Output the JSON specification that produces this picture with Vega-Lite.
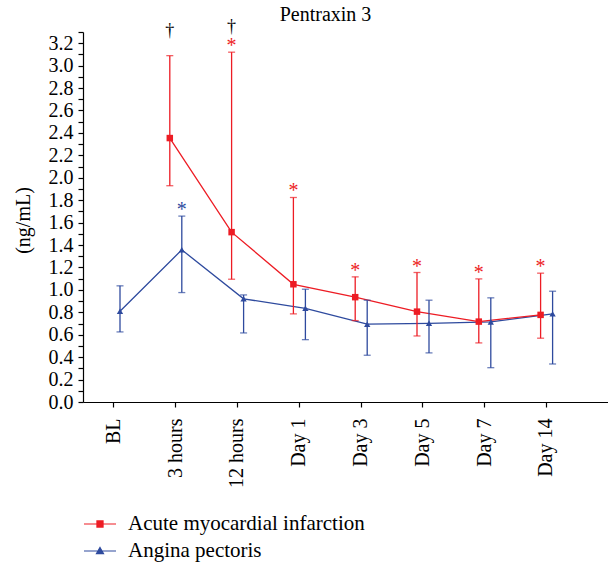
{
  "$schema": "https://vega.github.io/schema/vega-lite/v6.json",
  "width": 525,
  "height": 370,
  "autosize": {"type": "none"},
  "padding": {"left": 83, "top": 32, "right": 0, "bottom": 162},
  "background": "white",
  "title": {
    "text": "Pentraxin 3",
    "font": "Liberation Serif",
    "fontSize": 20,
    "fontWeight": "normal",
    "color": "black",
    "anchor": "middle",
    "dx": -20,
    "baseline": "alphabetic",
    "offset": -23
  },
  "config": {
    "view": {"stroke": null},
    "font": "Liberation Serif",
    "legend": {"labelFont": "Liberation Serif"},
    "axis": {
      "labelFont": "Liberation Serif",
      "labelColor": "black",
      "titleFont": "Liberation Serif",
      "titleColor": "black",
      "titleFontWeight": "normal",
      "domainColor": "black",
      "tickColor": "black",
      "grid": false
    }
  },
  "resolve": {"axis": {"y": "independent"}},
  "data": {
    "values": [
      {"time": "BL", "series": "Angina pectoris", "mean": 0.81, "lower": 0.625, "upper": 1.036, "sig": "", "dagger": ""},
      {"time": "3 hours", "series": "Acute myocardial infarction", "mean": 2.354, "lower": 1.929, "upper": 3.089, "sig": "", "dagger": "†"},
      {"time": "3 hours", "series": "Angina pectoris", "mean": 1.357, "lower": 0.976, "upper": 1.658, "sig": "*", "dagger": ""},
      {"time": "12 hours", "series": "Acute myocardial infarction", "mean": 1.515, "lower": 1.095, "upper": 3.12, "sig": "*", "dagger": "†"},
      {"time": "12 hours", "series": "Angina pectoris", "mean": 0.92, "lower": 0.616, "upper": 0.955, "sig": "", "dagger": ""},
      {"time": "Day 1", "series": "Acute myocardial infarction", "mean": 1.05, "lower": 0.786, "upper": 1.824, "sig": "*", "dagger": ""},
      {"time": "Day 1", "series": "Angina pectoris", "mean": 0.836, "lower": 0.556, "upper": 1.006, "sig": "", "dagger": ""},
      {"time": "Day 3", "series": "Acute myocardial infarction", "mean": 0.935, "lower": 0.726, "upper": 1.116, "sig": "*", "dagger": ""},
      {"time": "Day 3", "series": "Angina pectoris", "mean": 0.694, "lower": 0.417, "upper": 0.908, "sig": "", "dagger": ""},
      {"time": "Day 5", "series": "Acute myocardial infarction", "mean": 0.806, "lower": 0.589, "upper": 1.155, "sig": "*", "dagger": ""},
      {"time": "Day 5", "series": "Angina pectoris", "mean": 0.702, "lower": 0.438, "upper": 0.908, "sig": "", "dagger": ""},
      {"time": "Day 7", "series": "Acute myocardial infarction", "mean": 0.717, "lower": 0.527, "upper": 1.098, "sig": "*", "dagger": ""},
      {"time": "Day 7", "series": "Angina pectoris", "mean": 0.714, "lower": 0.306, "upper": 0.929, "sig": "", "dagger": ""},
      {"time": "Day 14", "series": "Acute myocardial infarction", "mean": 0.777, "lower": 0.569, "upper": 1.149, "sig": "*", "dagger": ""},
      {"time": "Day 14", "series": "Angina pectoris", "mean": 0.786, "lower": 0.339, "upper": 0.988, "sig": "", "dagger": ""}
    ]
  },
  "encoding": {
    "x": {
      "field": "time",
      "type": "nominal",
      "sort": null,
      "scale": {
        "type": "band",
        "domain": ["BL", "3 hours", "12 hours", "Day 1", "Day 3", "Day 5", "Day 7", "Day 14"],
        "paddingInner": 0,
        "paddingOuter": 0.2476,
        "align": 0
      },
      "axis": {
        "title": null,
        "labelAngle": -90,
        "labelFontSize": 20,
        "labelPadding": 11,
        "tickSize": 5,
        "domainWidth": 1.2,
        "tickWidth": 1.2
      }
    },
    "xOffset": {
      "field": "series",
      "type": "nominal",
      "scale": {
        "domain": ["Acute myocardial infarction", "Angina pectoris"],
        "range": [19, 43]
      }
    }
  },
  "layer": [
    {
      "mark": {"type": "point", "filled": true, "opacity": 0},
      "encoding": {
        "y": {
          "field": "mean",
          "type": "quantitative",
          "scale": {"domain": [0, 3.3], "nice": false, "zero": true},
          "axis": {
            "orient": "left",
            "title": "(ng/mL)",
            "titleFontSize": 20,
            "titleX": -50,
            "titleY": 188,
            "titleAngle": -90,
            "titleBaseline": "bottom",
            "titleAlign": "center",
            "labelFontSize": 20,
            "labelPadding": 5,
            "labelOverlap": false,
            "labelBound": false,
            "labelFlush": false,
            "tickSize": 5,
            "domainWidth": 1.2,
            "tickWidth": 1.2,
            "values": [0, 0.2, 0.4, 0.6, 0.8, 1.0, 1.2, 1.4, 1.6, 1.8, 2.0, 2.2, 2.4, 2.6, 2.8, 3.0, 3.2],
            "format": ".1f"
          }
        },
        "color": {
          "field": "series",
          "type": "nominal",
          "scale": {"domain": ["Acute myocardial infarction", "Angina pectoris"], "range": ["#ed1c24", "#2e4a9e"]},
          "legend": {
            "title": null,
            "orient": "none",
            "legendX": 0,
            "legendY": 475,
            "padding": 0,
            "symbolSize": 1024,
            "symbolStrokeWidth": 1.2,
            "symbolOpacity": 1,
            "labelFont": "Liberation Serif",
            "labelFontSize": 21,
            "labelColor": "black",
            "labelOffset": 11,
            "rowPadding": 0,
            "labelLimit": 400,
            "encode": {
              "symbols": {
                "update": {
                  "fill": {"scale": "color", "field": "value"},
                  "stroke": {"scale": "color", "field": "value"},
                  "opacity": {"value": 1}
                }
              },
              "labels": {
                "update": {
                  "font": {"value": "Liberation Serif"},
                  "fontSize": {"value": 21},
                  "fill": {"value": "black"}
                }
              }
            }
          }
        },
        "shape": {
          "field": "series",
          "type": "nominal",
          "scale": {
            "domain": ["Acute myocardial infarction", "Angina pectoris"],
            "range": ["M-1,0H1M-0.19,-0.19H0.19V0.19H-0.19Z", "M-1,0H1M0,-0.22L0.22,0.17H-0.22Z"]
          }
        }
      }
    },
    {
      "mark": {"type": "line", "strokeWidth": 1.3},
      "encoding": {
        "y": {
          "field": "mean",
          "type": "quantitative",
          "axis": {
            "orient": "left",
            "title": null,
            "labels": false,
            "domain": false,
            "tickSize": 5,
            "tickWidth": 1.2,
            "values": [0.1, 0.3, 0.5, 0.7, 0.9, 1.1, 1.3, 1.5, 1.7, 1.9, 2.1, 2.3, 2.5, 2.7, 2.9, 3.1, 3.3]
          }
        },
        "stroke": {
          "field": "series",
          "type": "nominal",
          "scale": {"domain": ["Acute myocardial infarction", "Angina pectoris"], "range": ["#ed1c24", "#2e4a9e"]},
          "legend": null
        },
        "order": {"value": null}
      }
    },
    {
      "mark": {"type": "rule", "strokeWidth": 1.3},
      "encoding": {
        "y": {"field": "lower", "type": "quantitative", "axis": null},
        "y2": {"field": "upper"},
        "stroke": {"field": "series", "type": "nominal", "legend": null}
      }
    },
    {
      "mark": {"type": "tick", "thickness": 1.3, "size": 7},
      "encoding": {
        "y": {"field": "lower", "type": "quantitative", "axis": null},
        "fill": {
          "field": "series",
          "type": "nominal",
          "scale": {"domain": ["Acute myocardial infarction", "Angina pectoris"], "range": ["#ed1c24", "#2e4a9e"]},
          "legend": null
        }
      }
    },
    {
      "mark": {"type": "tick", "thickness": 1.3, "size": 7},
      "encoding": {
        "y": {"field": "upper", "type": "quantitative", "axis": null},
        "fill": {"field": "series", "type": "nominal", "legend": null}
      }
    },
    {
      "transform": [{"filter": "datum.series == 'Acute myocardial infarction'"}],
      "mark": {"type": "square", "size": 42, "opacity": 1},
      "encoding": {
        "y": {"field": "mean", "type": "quantitative", "axis": null},
        "fill": {"field": "series", "type": "nominal", "legend": null}
      }
    },
    {
      "transform": [{"filter": "datum.series == 'Angina pectoris'"}],
      "mark": {"type": "point", "shape": "triangle-up", "filled": true, "size": 40, "opacity": 1},
      "encoding": {
        "y": {"field": "mean", "type": "quantitative", "axis": null},
        "fill": {"field": "series", "type": "nominal", "legend": null}
      }
    },
    {
      "transform": [{"filter": "datum.sig != ''"}],
      "mark": {"type": "text", "fontSize": 20, "baseline": "alphabetic", "dy": 0, "font": "Liberation Serif"},
      "encoding": {
        "y": {"field": "upper", "type": "quantitative", "axis": null},
        "text": {"field": "sig"},
        "fill": {"field": "series", "type": "nominal", "legend": null}
      }
    },
    {
      "transform": [{"filter": "datum.dagger != ''"}],
      "mark": {"type": "text", "fontSize": 18, "baseline": "alphabetic", "dy": -20, "color": "black", "font": "Liberation Serif"},
      "encoding": {
        "y": {"field": "upper", "type": "quantitative", "axis": null},
        "text": {"field": "dagger"}
      }
    }
  ]
}
